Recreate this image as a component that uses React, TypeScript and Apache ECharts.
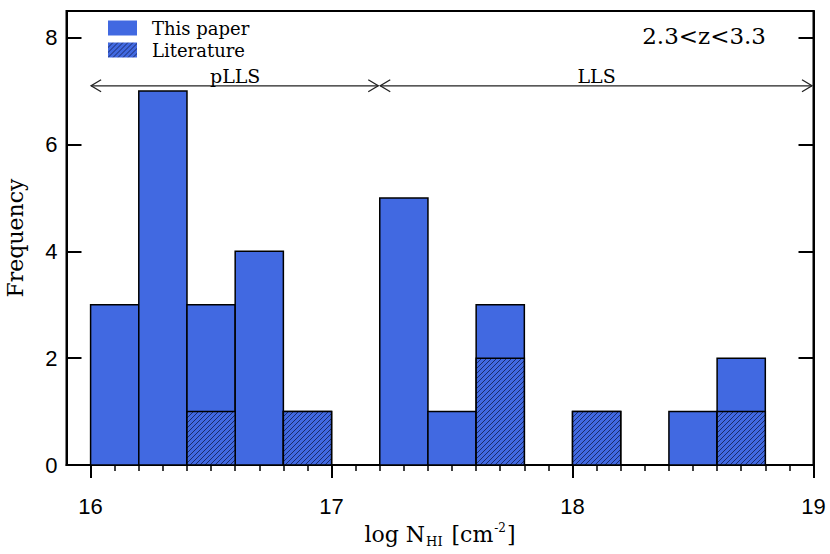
import { useEffect, useRef } from 'react';
import * as echarts from 'echarts';

// Histogram bins (start of each 0.2-dex bin in log N_HI)
const binStarts = [16.0, 16.2, 16.4, 16.6, 16.8, 17.0, 17.2, 17.4, 17.6, 17.8, 18.0, 18.2, 18.4, 18.6, 18.8];
const binWidth = 0.2;
// Total counts per bin (this paper + literature)
const totalCounts = [3, 7, 3, 4, 1, 0, 5, 1, 3, 0, 1, 0, 1, 2, 0];
// Literature counts per bin (hatched part)
const literatureCounts = [0, 0, 1, 0, 1, 0, 0, 0, 2, 0, 1, 0, 0, 1, 0];

const xMajorTicks = [16, 17, 18, 19];
const xMinorTicks = [16.0, 16.1, 16.2, 16.3, 16.4, 16.5, 16.6, 16.7, 16.8, 16.9, 17.0, 17.1, 17.2, 17.3, 17.4, 17.5, 17.6, 17.7, 17.8, 17.9, 18.0, 18.1, 18.2, 18.3, 18.4, 18.5, 18.6, 18.7, 18.8, 18.9, 19.0];
const regionNames = ['pLLS', 'LLS'];
const regionFrom = [16.0, 17.2];
const regionTo = [17.2, 19.0];
const arrowLevel = 7.1;
const redshiftLabel = '2.3<z<3.3';

const BLUE = '#4169E1';

function makeHatch() {
  const s = 5;
  const c = document.createElement('canvas');
  c.width = s;
  c.height = s;
  const ctx = c.getContext('2d')!;
  ctx.fillStyle = BLUE;
  ctx.fillRect(0, 0, s, s);
  ctx.strokeStyle = 'rgba(15,25,70,0.85)';
  ctx.lineWidth = 0.9;
  ctx.beginPath();
  ctx.moveTo(-1, 1); ctx.lineTo(1, -1);
  ctx.moveTo(0, s); ctx.lineTo(s, 0);
  ctx.moveTo(s - 1, s + 1); ctx.lineTo(s + 1, s - 1);
  ctx.stroke();
  return c;
}

export default function App() {
  const ref = useRef<HTMLDivElement>(null);
  useEffect(() => {
    if (!ref.current) return;
    const chart = echarts.init(ref.current, undefined, { renderer: 'svg' });
    const hatch = { image: makeHatch(), repeat: 'repeat' } as any;

    const totalData = binStarts
      .map((s, i) => [s, s + binWidth, totalCounts[i]])
      .filter((d) => d[2] > 0);
    const litData = binStarts
      .map((s, i) => [s, s + binWidth, literatureCounts[i]])
      .filter((d) => d[2] > 0);
    const regionData = regionNames.map((n, i) => [regionFrom[i], regionTo[i], arrowLevel, n]);

    const barRender = (fill: any) => (params: any, api: any) => {
      const p0 = api.coord([api.value(0), 0]);
      const p1 = api.coord([api.value(1), api.value(2)]);
      return {
        type: 'rect',
        shape: { x: p0[0], y: p1[1], width: p1[0] - p0[0], height: p0[1] - p1[1] },
        style: { fill, stroke: '#000', lineWidth: 1.5 },
      };
    };

    const serif = 'DejaVu Serif';
    const sans = 'Liberation Sans';

    chart.setOption({
      animation: false,
      grid: {
        left: 66.5, right: 16.5, top: 11, bottom: 89,
        outerBoundsMode: 'none',
        containLabel: false,
        show: true, borderColor: '#000', borderWidth: 2, backgroundColor: 'transparent',
      },
      legend: {
        data: ['This paper', 'Literature'],
        orient: 'vertical',
        left: 108, top: 19,
        padding: 0,
        icon: 'rect',
        itemWidth: 29, itemHeight: 15, itemGap: 4,
        itemStyle: { borderWidth: 0 },
        textStyle: { fontFamily: serif, fontSize: 18, color: '#000', padding: [0, 0, 0, 10] },
      },
      xAxis: [
        {
          type: 'value', min: 15.9, max: 19, position: 'bottom',
          axisLine: { show: true, lineStyle: { color: '#000', width: 2 } },
          axisTick: { show: true, inside: false, length: 6, customValues: xMinorTicks, lineStyle: { color: '#000', width: 1.5 } },
          axisLabel: { show: false },
          splitLine: { show: false },
        },
        {
          type: 'value', min: 15.9, max: 19, position: 'bottom',
          axisLine: { show: false },
          axisTick: { show: true, inside: false, length: 13, customValues: xMajorTicks, lineStyle: { color: '#000', width: 2 } },
          axisLabel: { show: true, customValues: xMajorTicks, fontFamily: sans, fontSize: 22, color: '#000', margin: 30, formatter: (v: number) => String(Math.round(v)) },
          splitLine: { show: false },
          name: '{a|log N}{sub|HI}{a| [cm}{sup|-2}{a|]}',
          nameLocation: 'middle',
          nameGap: 50,
          nameTextStyle: {
            rich: {
              a: { fontFamily: serif, fontSize: 22, color: '#000' },
              sub: { fontFamily: serif, fontSize: 13, color: '#000', verticalAlign: 'bottom', padding: [13, 2, 0, 1] },
              sup: { fontFamily: serif, fontSize: 12, color: '#000', verticalAlign: 'top', padding: [0, 1, 11, 1] },
            },
          },
        },
      ],
      yAxis: [
        {
          type: 'value', min: 0, max: 8.5, interval: 2, position: 'left',
          axisLine: { show: true, lineStyle: { color: '#000', width: 2 } },
          axisTick: { show: true, inside: true, length: 15, lineStyle: { color: '#000', width: 2 } },
          axisLabel: { show: true, fontFamily: sans, fontSize: 22, color: '#000', margin: 9, showMaxLabel: false, formatter: (v: number) => (v % 2 === 0 ? String(v) : '') },
          splitLine: { show: false },
          name: 'Frequency',
          nameLocation: 'middle',
          nameRotate: 90,
          nameGap: 40,
          nameTextStyle: { fontFamily: serif, fontSize: 22, color: '#000' },
        },
        {
          type: 'value', min: 0, max: 8.5, interval: 2, position: 'right',
          axisLine: { show: true, lineStyle: { color: '#000', width: 2 } },
          axisTick: { show: true, inside: true, length: 15, lineStyle: { color: '#000', width: 2 } },
          axisLabel: { show: false },
          splitLine: { show: false },
        },
      ],
      graphic: [
        {
          type: 'text',
          right: 830 - 766,
          top: 24,
          style: { text: redshiftLabel, fontFamily: serif, fontSize: 23, fill: '#000' },
        },
      ],
      series: [
        {
          name: 'This paper',
          type: 'custom',
          xAxisIndex: 0, yAxisIndex: 0,
          itemStyle: { color: BLUE },
          encode: { x: [0, 1], y: 2 },
          data: totalData,
          renderItem: barRender(BLUE),
          z: 2,
        },
        {
          name: 'Literature',
          type: 'custom',
          xAxisIndex: 0, yAxisIndex: 0,
          itemStyle: { color: hatch },
          encode: { x: [0, 1], y: 2 },
          data: litData,
          renderItem: barRender(hatch),
          z: 3,
        },
        {
          name: 'regions',
          type: 'custom',
          xAxisIndex: 0, yAxisIndex: 0,
          encode: { x: [0, 1], y: 2 },
          data: regionData,
          z: 4,
          silent: true,
          renderItem: (params: any, api: any) => {
            const a = api.coord([api.value(0), api.value(2)]);
            const b = api.coord([api.value(1), api.value(2)]);
            const y = a[1];
            const ax = a[0] + 0.5;
            const bx = b[0] - 1.5;
            const hw = 10, hh = 6;
            const stroke = { stroke: '#222', lineWidth: 1.3, fill: 'none' };
            const label = regionNames[params.dataIndex];
            return {
              type: 'group',
              children: [
                { type: 'line', shape: { x1: ax, y1: y, x2: bx, y2: y }, style: stroke },
                { type: 'polyline', shape: { points: [[ax + hw, y - hh], [ax, y], [ax + hw, y + hh]] }, style: stroke },
                { type: 'polyline', shape: { points: [[bx - hw, y - hh], [bx, y], [bx - hw, y + hh]] }, style: stroke },
                {
                  type: 'text',
                  x: (a[0] + b[0]) / 2,
                  y: y,
                  style: { text: label, fontFamily: serif, fontSize: 19, fill: '#000', align: 'center', verticalAlign: 'bottom' },
                },
              ],
            };
          },
        },
      ],
    });
    return () => chart.dispose();
  }, []);
  return <div ref={ref} style={{ width: 830, height: 554, position: 'absolute', left: 0, top: 0 }} />;
}
